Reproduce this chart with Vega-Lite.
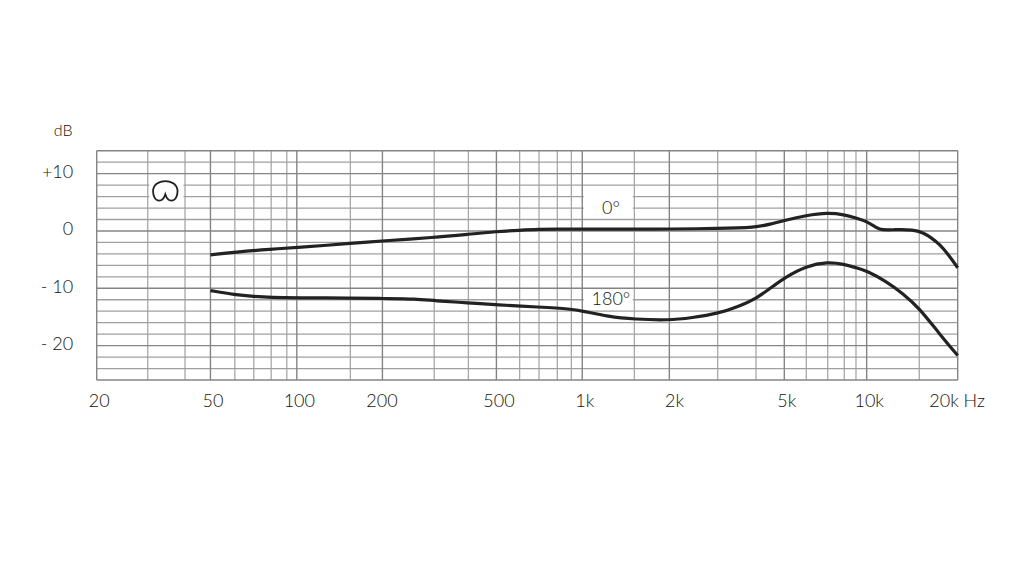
{
  "$schema": "https://vega.github.io/schema/vega-lite/v6.json",
  "autosize": {"type": "none"},
  "padding": {"left": 96.7, "top": 150.7, "right": 66, "bottom": 185},
  "width": 861,
  "height": 229.3,
  "background": "#ffffff",
  "config": {
    "view": {"stroke": null},
    "font": "Lato"
  },
  "datasets": {
    "freqMinor": [
      {"f": 30.2}, {"f": 40.8}, {"f": 61}, {"f": 71.1}, {"f": 81.8}, {"f": 92.8},
      {"f": 155}, {"f": 305}, {"f": 402}, {"f": 608}, {"f": 711}, {"f": 824}, {"f": 923},
      {"f": 1535}, {"f": 3008}, {"f": 4099}, {"f": 6150}, {"f": 7312}, {"f": 8358}, {"f": 9186},
      {"f": 15312}
    ],
    "freqMajor": [
      {"f": 20}, {"f": 50.1}, {"f": 100.6}, {"f": 200.8}, {"f": 504}, {"f": 1008},
      {"f": 2036}, {"f": 5150}, {"f": 10014}, {"f": 20880}
    ],
    "levelMinor": [
      {"db": 12}, {"db": 8}, {"db": 6}, {"db": 4}, {"db": 2},
      {"db": -2}, {"db": -4}, {"db": -6}, {"db": -8},
      {"db": -12}, {"db": -14}, {"db": -16}, {"db": -18},
      {"db": -22}, {"db": -24}
    ],
    "levelMajor": [
      {"db": 14}, {"db": 10}, {"db": 0}, {"db": -10}, {"db": -20}, {"db": -26}
    ],
    "boxes": [
      {"f": 30.6, "f2": 40.3, "db": 4.3, "db2": 9.7},
      {"f": 1020, "f2": 1515, "db": 2.3, "db2": 7.7},
      {"f": 1020, "f2": 1515, "db": -10.3, "db2": -13.8}
    ],
    "curves": [
      {"angle": "0°", "f": 50.1, "db": -4.16},
      {"angle": "0°", "f": 50.1, "db": -4.16},
      {"angle": "0°", "f": 61, "db": -3.69},
      {"angle": "0°", "f": 81.8, "db": -3.17},
      {"angle": "0°", "f": 100.6, "db": -2.9},
      {"angle": "0°", "f": 155, "db": -2.18},
      {"angle": "0°", "f": 200.8, "db": -1.73},
      {"angle": "0°", "f": 305, "db": -1.14},
      {"angle": "0°", "f": 402, "db": -0.57},
      {"angle": "0°", "f": 504, "db": -0.1},
      {"angle": "0°", "f": 608, "db": 0.12},
      {"angle": "0°", "f": 711, "db": 0.29},
      {"angle": "0°", "f": 824, "db": 0.35},
      {"angle": "0°", "f": 1008, "db": 0.29},
      {"angle": "0°", "f": 1535, "db": 0.32},
      {"angle": "0°", "f": 2036, "db": 0.33},
      {"angle": "0°", "f": 3008, "db": 0.42},
      {"angle": "0°", "f": 4099, "db": 0.62},
      {"angle": "0°", "f": 4592, "db": 1.16},
      {"angle": "0°", "f": 5150, "db": 1.85},
      {"angle": "0°", "f": 6150, "db": 2.72},
      {"angle": "0°", "f": 7312, "db": 3.2},
      {"angle": "0°", "f": 8358, "db": 2.85},
      {"angle": "0°", "f": 9186, "db": 2.25},
      {"angle": "0°", "f": 10014, "db": 1.68},
      {"angle": "0°", "f": 10900, "db": 0.5},
      {"angle": "0°", "f": 11300, "db": 0.16},
      {"angle": "0°", "f": 12500, "db": 0.22},
      {"angle": "0°", "f": 14600, "db": 0.26},
      {"angle": "0°", "f": 15800, "db": -0.3},
      {"angle": "0°", "f": 16900, "db": -1.2},
      {"angle": "0°", "f": 18100, "db": -2.4},
      {"angle": "0°", "f": 19350, "db": -4.1},
      {"angle": "0°", "f": 20880, "db": -6.41},
      {"angle": "0°", "f": 20880, "db": -6.41},
      {"angle": "180°", "f": 50.1, "db": -10.4},
      {"angle": "180°", "f": 50.1, "db": -10.4},
      {"angle": "180°", "f": 61, "db": -11.14},
      {"angle": "180°", "f": 71.1, "db": -11.44},
      {"angle": "180°", "f": 81.8, "db": -11.61},
      {"angle": "180°", "f": 100.6, "db": -11.66},
      {"angle": "180°", "f": 155, "db": -11.7},
      {"angle": "180°", "f": 200.8, "db": -11.79},
      {"angle": "180°", "f": 265, "db": -11.84},
      {"angle": "180°", "f": 305, "db": -12.18},
      {"angle": "180°", "f": 402, "db": -12.53},
      {"angle": "180°", "f": 504, "db": -12.88},
      {"angle": "180°", "f": 711, "db": -13.28},
      {"angle": "180°", "f": 923, "db": -13.62},
      {"angle": "180°", "f": 1008, "db": -13.95},
      {"angle": "180°", "f": 1245, "db": -14.96},
      {"angle": "180°", "f": 1535, "db": -15.4},
      {"angle": "180°", "f": 2036, "db": -15.6},
      {"angle": "180°", "f": 2438, "db": -15.13},
      {"angle": "180°", "f": 3008, "db": -14.44},
      {"angle": "180°", "f": 3552, "db": -13.17},
      {"angle": "180°", "f": 4099, "db": -11.84},
      {"angle": "180°", "f": 4776, "db": -9.41},
      {"angle": "180°", "f": 5150, "db": -8.2},
      {"angle": "180°", "f": 6150, "db": -6.1},
      {"angle": "180°", "f": 7312, "db": -5.4},
      {"angle": "180°", "f": 8358, "db": -5.8},
      {"angle": "180°", "f": 9186, "db": -6.41},
      {"angle": "180°", "f": 10014, "db": -6.93},
      {"angle": "180°", "f": 11770, "db": -8.84},
      {"angle": "180°", "f": 13460, "db": -10.97},
      {"angle": "180°", "f": 15312, "db": -13.45},
      {"angle": "180°", "f": 18100, "db": -18.08},
      {"angle": "180°", "f": 20880, "db": -21.72},
      {"angle": "180°", "f": 20880, "db": -21.72}
    ],
    "curveLabels": [
      {"f": 1270, "db": 3.85, "label": "0°"},
      {"f": 1270, "db": -12.05, "label": "180°"}
    ]
  },
  "encoding": {
    "x": {
      "field": "f",
      "type": "quantitative",
      "scale": {"type": "log", "domain": [20, 20880], "nice": false},
      "axis": {
        "title": null,
        "grid": false,
        "domain": false,
        "ticks": false,
        "values": [20, 50.1, 100.6, 196, 504, 1008, 2080, 5150, 10014, 20370],
        "labelExpr": "format(datum.value, '.1s') + (datum.value > 20000 ? ' Hz' : '')",
        "labelOffset": 2,
        "labelPadding": 13,
        "labelFont": "Lato",
        "labelFontSize": 18,
        "labelFontWeight": 300,
        "labelColor": "#14140c",
        "labelOverlap": false,
        "labelFlush": false
      }
    },
    "y": {
      "field": "db",
      "type": "quantitative",
      "scale": {"domain": [-26, 14], "nice": false, "zero": false},
      "axis": {
        "title": "dB",
        "titleAngle": 0,
        "titleX": -34,
        "titleY": -20,
        "titleAlign": "center",
        "titleBaseline": "middle",
        "titleFont": "Lato",
        "titleFontSize": 16,
        "titleFontWeight": 300,
        "titleColor": "#14140c",
        "grid": false,
        "domain": false,
        "ticks": false,
        "values": [-20, -10, 0, 10],
        "labelExpr": "datum.value > 0 ? '+' + datum.value : datum.value < 0 ? '- ' + abs(datum.value) : '0'",
        "labelOffset": -1,
        "labelPadding": 24,
        "labelFont": "Lato",
        "labelFontSize": 18,
        "labelFontWeight": 300,
        "labelColor": "#14140c"
      }
    }
  },
  "layer": [
    {
      "data": {"name": "freqMinor"},
      "mark": {"type": "rule", "stroke": "#a8a8a8", "strokeWidth": 1.3},
      "encoding": {"y": null}
    },
    {
      "data": {"name": "levelMinor"},
      "mark": {"type": "rule", "stroke": "#a0a0a0", "strokeWidth": 1.3},
      "encoding": {"x": null}
    },
    {
      "data": {"name": "freqMajor"},
      "mark": {"type": "rule", "stroke": "#848484", "strokeWidth": 1.4},
      "encoding": {"y": null}
    },
    {
      "data": {"name": "levelMajor"},
      "mark": {"type": "rule", "stroke": "#848484", "strokeWidth": 1.4},
      "encoding": {"x": null}
    },
    {
      "data": {"name": "boxes"},
      "mark": {"type": "rect", "fill": "#ffffff"},
      "encoding": {
        "x2": {"field": "f2"},
        "y2": {"field": "db2"}
      }
    },
    {
      "data": {"name": "curves"},
      "mark": {"type": "line", "interpolate": "basis", "stroke": "#222222", "strokeWidth": 3.2, "strokeCap": "butt"},
      "encoding": {"detail": {"field": "angle"}}
    },
    {
      "data": {"name": "curveLabels"},
      "mark": {"type": "text", "font": "Lato", "fontSize": 18, "fontWeight": 300, "color": "#14140c", "align": "center", "baseline": "middle"},
      "encoding": {"text": {"field": "label"}}
    },
    {
      "data": {"values": [{"f": 34.8, "db": 7.0}]},
      "mark": {
        "type": "point",
        "shape": "M0 0.14 C -0.05 0.3 -0.14 0.4 -0.25 0.4 C -0.42 0.4 -0.5 0.2 -0.5 0.02 C -0.5 -0.24 -0.28 -0.4 0 -0.4 C 0.28 -0.4 0.5 -0.24 0.5 0.02 C 0.5 0.2 0.42 0.4 0.25 0.4 C 0.14 0.4 0.05 0.3 0 0.14 Z",
        "size": 2400,
        "filled": false,
        "stroke": "#222222",
        "strokeWidth": 1.8,
        "opacity": 1
      }
    }
  ]
}
